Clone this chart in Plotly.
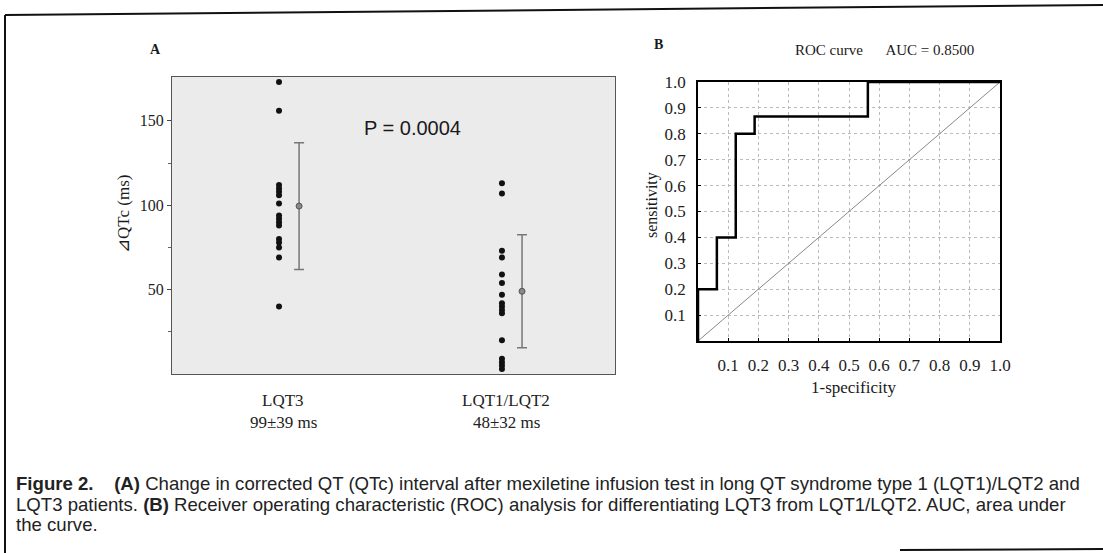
import plotly.graph_objects as go

W, H = 1103, 553

# ---------------- data ----------------
groups = ["LQT3", "LQT1/LQT2"]
group_sub = ["99±39 ms", "48±32 ms"]
lqt3_vals = [173, 156, 112, 110, 108, 106, 101, 94, 92, 90, 88, 80, 78, 75, 69, 40]
lqt12_vals = [113, 107, 73, 69, 59, 54, 47, 42, 40, 38, 36, 20, 9, 7, 5, 3]
group_means = [99.5, 49]
group_sd = [37.5, 33.5]

roc_fpr = [0, 0, 0.0625, 0.0625, 0.125, 0.125, 0.1875, 0.1875, 0.5625, 0.5625, 1.0]
roc_tpr = [0, 0.2, 0.2, 0.4, 0.4, 0.8, 0.8, 0.867, 0.867, 1.0, 1.0]
diag = [0, 1]
roc_ticks = [0.1, 0.2, 0.3, 0.4, 0.5, 0.6, 0.7, 0.8, 0.9, 1.0]

SERIF = "Liberation Serif, Times New Roman, serif"
SANS = "Liberation Sans, Arial, sans-serif"

def px(x):
    return x / W

def py(y):
    return 1 - y / H

fig = go.Figure()

# ---------- Panel A ----------
fig.add_trace(go.Scatter(x=[1] * len(lqt3_vals), y=lqt3_vals, mode="markers",
                         marker=dict(color="#111", size=6), xaxis="x", yaxis="y",
                         showlegend=False))
fig.add_trace(go.Scatter(x=[2] * len(lqt12_vals), y=lqt12_vals, mode="markers",
                         marker=dict(color="#111", size=6), xaxis="x", yaxis="y",
                         showlegend=False))
fig.add_trace(go.Scatter(x=[1.09, 2.09], y=group_means, mode="markers",
                         marker=dict(color="#888", size=6, line=dict(color="#555", width=1)),
                         error_y=dict(type="data", array=group_sd, color="#777",
                                      thickness=1.5, width=5),
                         xaxis="x", yaxis="y", showlegend=False))

# ---------- Panel B ----------
fig.add_trace(go.Scatter(x=diag, y=diag, mode="lines",
                         line=dict(color="#888", width=1), xaxis="x2", yaxis="y2",
                         showlegend=False))
fig.add_trace(go.Scatter(x=roc_fpr, y=roc_tpr, mode="lines",
                         line=dict(color="#000", width=2.5), xaxis="x2", yaxis="y2",
                         showlegend=False))

fig.update_layout(
    template="none",
    width=W, height=H,
    margin=dict(l=0, r=0, t=0, b=0, pad=0),
    paper_bgcolor="white",
    plot_bgcolor="white",
    xaxis=dict(domain=[px(172), px(615)], range=[0.52, 2.507], showticklabels=False,
               anchor="y", automargin=False, showgrid=False, zeroline=False, showline=True,
               mirror=True, linecolor="#555", linewidth=1, ticks=""),
    yaxis=dict(domain=[py(374), py(77)], range=[0, 176], tickvals=[50, 100, 150],
               anchor="x", automargin=False,
               ticktext=["50", "100", "150"], ticks="outside", ticklen=4,
               tickcolor="#444", showgrid=False, zeroline=False, showline=True,
               mirror=True, linecolor="#555", linewidth=1,
               minor=dict(tickvals=[25, 75, 125], ticks="outside", ticklen=3,
                          tickcolor="#666"),
               tickfont=dict(family=SERIF, size=16, color="#222")),
    xaxis2=dict(domain=[px(698), px(1000)], range=[0, 1], tickvals=roc_ticks, anchor="y2",
                automargin=False,
                ticktext=[f"{v:.1f}" for v in roc_ticks], ticks="inside", ticklen=3,
                tickcolor="#000", showgrid=True, gridcolor="#bbb", griddash="dot",
                gridwidth=1, zeroline=False, showline=True, mirror=True,
                linecolor="#000", linewidth=1.5, ticklabelstandoff=8,
                tickfont=dict(family=SERIF, size=17, color="#222")),
    yaxis2=dict(domain=[py(341), py(82)], range=[0, 1], tickvals=roc_ticks, anchor="x2",
                automargin=False,
                ticktext=[f"{v:.1f}" for v in roc_ticks], ticks="inside", ticklen=3,
                tickcolor="#000", showgrid=True, gridcolor="#bbb", griddash="dot",
                gridwidth=1, zeroline=False, showline=True, mirror=True,
                linecolor="#000", linewidth=1.5, ticklabelstandoff=7,
                tickfont=dict(family=SERIF, size=17, color="#222")),
)

# panel A background (grey stipple)
fig.add_shape(type="rect", xref="x domain", yref="y domain", x0=0, x1=1, y0=0, y1=1,
              fillcolor="#ebebeb", line=dict(width=0), layer="below")

annots = []
# group labels
for i, (g, s) in enumerate(zip(groups, group_sub)):
    annots.append(dict(x=i + 1.02, y=py(400), xref="x", yref="paper", text=g, showarrow=False,
                       font=dict(family=SERIF, size=17, color="#222"),
                       xanchor="center", yanchor="middle"))
    annots.append(dict(x=i + 1.02, y=py(422), xref="x", yref="paper", text=s, showarrow=False,
                       font=dict(family=SERIF, size=17, color="#222"),
                       xanchor="center", yanchor="middle"))

def lab(x, y, text, size, family=SERIF, angle=0):
    return dict(x=px(x), y=py(y), xref="paper", yref="paper", text=text, textangle=angle,
                showarrow=False, xanchor="center", yanchor="middle",
                font=dict(family=family, size=size, color="#1a1a1a"))

annots += [
    lab(124, 214, "⊿QTc (ms)", 17, angle=-90),
    lab(412, 128, "P = 0.0004", 20, family=SANS),
    lab(155, 50, "<b>A</b>", 14),
    lab(658, 44, "<b>B</b>", 14),
    lab(884, 50, "ROC curve &nbsp;&nbsp;&nbsp;&nbsp;&nbsp;AUC = 0.8500", 15),
    lab(853, 387, "1-specificity", 17),
    lab(652, 205, "sensitivity", 16, angle=-90),
]

cap_lines = [
    "<b>Figure 2.</b>&nbsp;&nbsp;&nbsp; <b>(A)</b> Change in corrected QT (QTc) interval after mexiletine infusion test in long QT syndrome type 1 (LQT1)/LQT2 and",
    "LQT3 patients. <b>(B)</b> Receiver operating characteristic (ROC) analysis for differentiating LQT3 from LQT1/LQT2. AUC, area under",
    "the curve.",
]
for yy, t in zip([483, 504, 524], cap_lines):
    annots.append(dict(x=px(14), y=py(yy), xref="paper", yref="paper", text=t,
                       showarrow=False, xanchor="left", yanchor="middle", align="left",
                       font=dict(family=SANS, size=18.6, color="#222")))
fig.update_layout(annotations=annots)

# scanned page frame
fig.add_shape(type="line", xref="paper", yref="paper", x0=px(5), y0=py(15), x1=px(1103), y1=py(5),
              line=dict(color="#111", width=2))
fig.add_shape(type="line", xref="paper", yref="paper", x0=px(5), y0=py(15), x1=px(5), y1=py(553),
              line=dict(color="#111", width=2))
fig.add_shape(type="line", xref="paper", yref="paper", x0=px(900), y0=py(550), x1=px(1103), y1=py(549),
              line=dict(color="#111", width=2))

fig.write_html("out.html")
